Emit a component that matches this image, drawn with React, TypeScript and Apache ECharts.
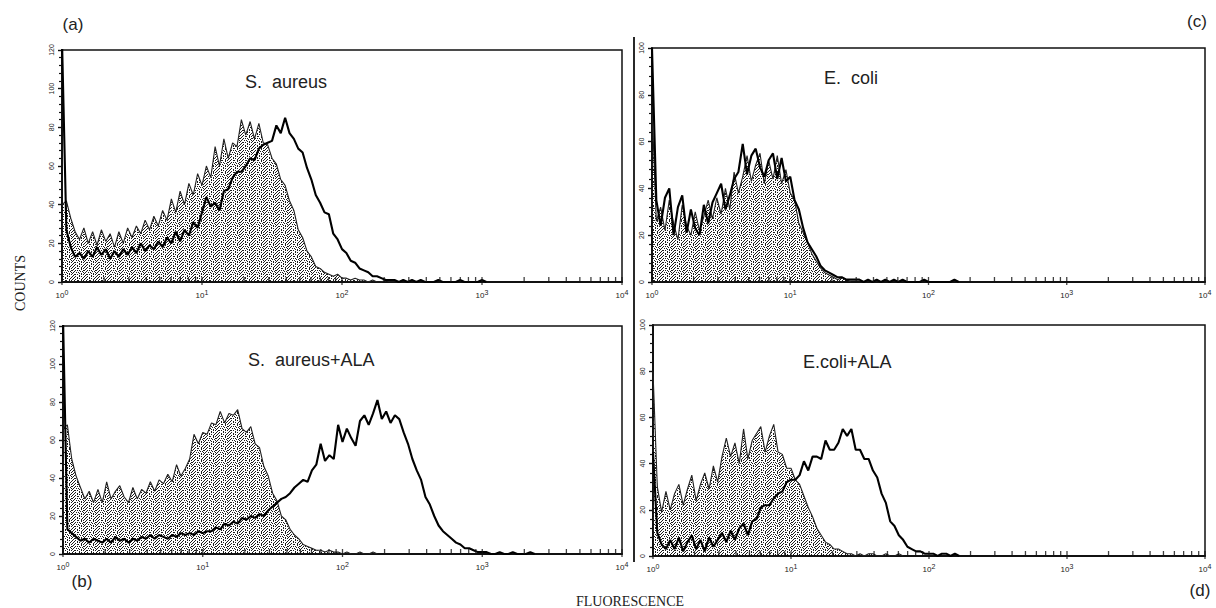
import React, { useEffect, useRef } from 'react';
import * as echarts from 'echarts';

// ---- axis definitions ----
const CHANNELS_PER_DECADE = 32;
const CHANNELS: string[] = Array.from({ length: 4 * CHANNELS_PER_DECADE + 1 }, (_, i) => String(i));
const DECADE_EXPONENTS = ['0', '1', '2', '3', '4'];
const Y_MAX_AUREUS = 120;
const Y_MAX_COLI = 100;

// ---- data (counts per log channel, 32 channels per decade, starting at 10^0) ----
// (a) S. aureus : control (stippled, thin) and treated (thick)
const A_CTRL = [40, 42, 33, 26, 22, 28, 20, 26, 19, 27, 21, 25, 18, 26, 20, 28, 23, 29, 25, 32, 27, 34, 29, 37, 32, 43, 36, 47, 40, 51, 45, 56, 50, 60, 54, 70, 60, 74, 64, 72, 70, 84, 76, 83, 74, 82, 72, 71, 64, 61, 53, 50, 42, 37, 27, 23, 16, 13, 8, 7, 5, 4, 3, 4, 2, 2, 1, 2, 1, 1, 0, 1, 0, 0, 1, 0, 0, 0, 1, 0];
const A_TRT = [125, 27, 18, 13, 15, 12, 16, 13, 18, 14, 17, 12, 16, 13, 17, 14, 18, 15, 20, 16, 19, 17, 21, 18, 23, 20, 26, 21, 27, 24, 31, 28, 36, 44, 39, 41, 37, 47, 48, 54, 57, 57, 60, 64, 63, 69, 71, 72, 73, 81, 77, 85, 77, 74, 69, 67, 59, 53, 45, 41, 36, 35, 25, 22, 17, 15, 11, 10, 7, 6, 5, 3, 3, 2, 1, 1, 1, 0, 1, 0, 1, 0, 1, 0, 0, 0, 1, 0, 0, 0, 0, 1, 0, 0, 0, 0, 1, 0];
// (b) S. aureus + ALA
const B_CTRL = [66, 68, 50, 41, 35, 29, 33, 27, 34, 27, 38, 29, 33, 36, 30, 27, 35, 29, 34, 32, 38, 33, 39, 37, 42, 38, 47, 41, 45, 50, 63, 58, 64, 63, 69, 68, 75, 69, 74, 73, 76, 66, 64, 67, 58, 56, 46, 41, 32, 28, 20, 18, 13, 10, 8, 5, 4, 3, 2, 2, 1, 2, 1, 1, 0, 1, 0, 0, 1, 0, 0, 1, 0];
const B_TRT = [125, 13, 11, 9, 7, 8, 6, 8, 7, 6, 8, 6, 9, 7, 8, 6, 8, 7, 9, 8, 10, 8, 10, 9, 8, 10, 9, 11, 10, 11, 10, 12, 11, 12, 12, 14, 13, 16, 15, 17, 16, 19, 18, 20, 19, 21, 20, 23, 25, 27, 29, 30, 32, 35, 37, 39, 38, 44, 47, 58, 49, 52, 50, 68, 59, 66, 61, 57, 70, 73, 68, 74, 81, 71, 75, 69, 73, 71, 64, 58, 50, 44, 39, 30, 26, 20, 15, 12, 10, 8, 6, 5, 3, 3, 2, 1, 1, 1, 0, 0, 1, 0, 0, 1, 0, 0, 0, 1, 0];
// (c) E. coli
const C_CTRL = [75, 26, 32, 22, 35, 25, 18, 33, 24, 20, 30, 22, 28, 35, 27, 36, 29, 40, 31, 47, 38, 45, 54, 43, 50, 55, 42, 52, 44, 54, 42, 48, 38, 35, 25, 21, 17, 12, 9, 6, 4, 3, 2, 1, 2, 1, 0];
const C_TRT = [100, 35, 24, 36, 40, 20, 32, 37, 21, 31, 23, 20, 33, 25, 34, 38, 42, 31, 37, 44, 47, 59, 46, 54, 57, 49, 45, 52, 55, 44, 53, 43, 45, 35, 31, 23, 17, 14, 11, 7, 5, 4, 3, 2, 2, 1, 1, 1, 1, 0, 1, 0, 1, 0, 1, 0, 1, 0, 1, 0, 0, 0, 0, 1, 0, 0, 0, 0, 0, 0, 1, 0];
// (d) E. coli + ALA
const D_CTRL = [80, 30, 19, 28, 20, 27, 31, 22, 29, 35, 24, 31, 36, 29, 39, 32, 43, 51, 43, 49, 40, 55, 42, 50, 53, 56, 45, 52, 57, 45, 44, 38, 38, 33, 31, 26, 21, 17, 12, 9, 6, 5, 3, 3, 2, 1, 1, 0, 1, 0, 1, 1, 0, 0, 1, 0, 0, 1, 0];
const D_TRT = [45, 10, 5, 3, 7, 3, 8, 2, 6, 9, 3, 7, 2, 8, 4, 7, 10, 6, 11, 7, 12, 14, 9, 15, 16, 21, 22, 22, 25, 27, 28, 32, 33, 33, 35, 41, 37, 43, 43, 42, 50, 46, 46, 49, 55, 52, 55, 46, 46, 42, 42, 37, 34, 27, 23, 15, 13, 9, 7, 4, 3, 2, 2, 1, 1, 1, 0, 1, 1, 0, 1, 0];

const PANEL_TITLES = ['S.  aureus', 'S.  aureus+ALA', 'E.  coli', 'E.coli+ALA'];
const PANEL_LETTERS = ['(a)', '(b)', '(c)', '(d)'];

// stipple texture tile (12x12) – purely a fill style
const STIPPLE_ROWS = [
  '#..#...#.#..',
  '..#..#.....#',
  '.#...#.#..#.',
  '#..#.....#..',
  '..#..##..#.#',
  '.#.......#..',
  '#..#.#.#...#',
  '..#.....#.#.',
  '.#..#.#....#',
  '#......#.#..',
  '..##.#...#.#',
  '.#.....#....',
];

function makeStipple(): any {
  const n = STIPPLE_ROWS.length;
  const c = document.createElement('canvas');
  c.width = n;
  c.height = n;
  const ctx = c.getContext('2d');
  if (ctx) {
    ctx.fillStyle = '#1c1c1c';
    STIPPLE_ROWS.forEach((row, y) => {
      for (let x = 0; x < row.length; x++) if (row[x] === '#') ctx.fillRect(x, y, 1, 1);
    });
  }
  return { image: c, repeat: 'repeat', imageWidth: n, imageHeight: n };
}

const GRIDS = [
  { left: 62, top: 50, width: 560, height: 232 },
  { left: 63, top: 326, width: 559, height: 228 },
  { left: 652, top: 48, width: 553, height: 234 },
  { left: 653, top: 325, width: 552, height: 231 },
];

// positions (in channel units) of log-decade tick marks: 1..9 x 10^d
function logTicks(major: boolean): number[] {
  const out: number[] = [];
  for (let d = 0; d < 4; d++) {
    for (let k = 1; k <= 9; k++) {
      if ((k === 1) === major) out.push(d * CHANNELS_PER_DECADE + CHANNELS_PER_DECADE * Math.log10(k));
    }
  }
  if (major) out.push(4 * CHANNELS_PER_DECADE);
  return out;
}

export default function App() {
  const ref = useRef<HTMLDivElement>(null);

  useEffect(() => {
    if (!ref.current) return;
    const chart = echarts.init(ref.current, undefined, { renderer: 'svg' });
    const stipple = makeStipple();
    const panels = [
      { ctrl: A_CTRL, trt: A_TRT, max: Y_MAX_AUREUS },
      { ctrl: B_CTRL, trt: B_TRT, max: Y_MAX_AUREUS },
      { ctrl: C_CTRL, trt: C_TRT, max: Y_MAX_COLI },
      { ctrl: D_CTRL, trt: D_TRT, max: Y_MAX_COLI },
    ];
    const axisColor = '#111';
    const labelFont = 'Arial, "Liberation Sans", sans-serif';
    const minorTicks = logTicks(false);
    const majorTicks = logTicks(true);
    const n = panels.length;

    const catAxes = panels.map((_, i) => ({
      type: 'category',
      gridIndex: i,
      data: CHANNELS,
      boundaryGap: false,
      position: 'bottom',
      axisLine: { show: true, lineStyle: { color: axisColor, width: 1.8 } },
      axisTick: { show: false },
      axisLabel: {
        show: true,
        interval: (idx: number) => idx % CHANNELS_PER_DECADE === 0,
        showMaxLabel: true,
        margin: 7,
        formatter: (v: string) => `{b|10}{s|${DECADE_EXPONENTS[Number(v) / CHANNELS_PER_DECADE]}}`,
        rich: {
          b: { fontSize: 8, color: '#222', fontFamily: labelFont },
          s: { fontSize: 7, color: '#222', fontFamily: labelFont, padding: [0, 0, 6, 0] },
        },
      },
      splitLine: { show: false },
    }));
    // hidden continuous axes on the same grids, used only to place the log tick marks
    const tickAxes = panels.map((_, i) => ({
      type: 'value',
      gridIndex: i,
      min: 0,
      max: 4 * CHANNELS_PER_DECADE,
      position: 'bottom',
      show: false,
    }));

    const tickSeries = panels.flatMap((_, i) => [
      {
        type: 'scatter',
        xAxisIndex: n + i,
        yAxisIndex: i,
        data: minorTicks.map((v) => [v, 0]),
        symbol: 'rect',
        symbolSize: [1.3, 5],
        symbolOffset: [0, -2.5],
        itemStyle: { color: axisColor },
        silent: true,
        clip: false,
        z: 6,
      },
      {
        type: 'scatter',
        xAxisIndex: n + i,
        yAxisIndex: i,
        data: majorTicks.map((v) => [v, 0]),
        symbol: 'rect',
        symbolSize: [1.3, 8],
        symbolOffset: [0, -1],
        itemStyle: { color: axisColor },
        silent: true,
        clip: false,
        z: 6,
      },
    ]);

    const option: any = {
      animation: false,
      backgroundColor: '#ffffff',
      grid: GRIDS.map((g) => ({ ...g, show: true, borderColor: '#111', borderWidth: 1.5, backgroundColor: 'transparent' })),
      xAxis: [...catAxes, ...tickAxes],
      yAxis: panels.map((p, i) => ({
        type: 'value',
        gridIndex: i,
        min: 0,
        max: p.max,
        interval: 20,
        axisLine: { show: true, lineStyle: { color: axisColor, width: 2 } },
        axisTick: { show: true, length: 4, lineStyle: { color: axisColor, width: 1.4 } },
        minorTick: { show: true, splitNumber: 5, length: 3, lineStyle: { color: axisColor, width: 1.2 } },
        axisLabel: {
          show: true,
          rotate: 90,
          fontSize: 7,
          margin: 7,
          color: '#222',
          fontFamily: labelFont,
        },
        splitLine: { show: false },
      })),
      series: [
        ...panels.flatMap((p, i) => [
          {
            type: 'line',
            xAxisIndex: i,
            yAxisIndex: i,
            data: p.ctrl,
            symbol: 'none',
            clip: true,
            lineStyle: { color: '#222', width: 1.1 },
            areaStyle: { color: stipple, opacity: 1 },
            z: 2,
          },
          {
            type: 'line',
            xAxisIndex: i,
            yAxisIndex: i,
            data: p.trt,
            symbol: 'none',
            clip: true,
            lineStyle: { color: '#000', width: 2.1 },
            z: 3,
          },
        ]),
        ...tickSeries,
      ],
      graphic: [
        { type: 'line', shape: { x1: 634, y1: 37, x2: 634, y2: 562 }, style: { stroke: '#111', lineWidth: 1.8 } },
        { type: 'text', x: 73, y: 24, style: { text: PANEL_LETTERS[0], font: `17px ${labelFont}`, fill: '#222', textAlign: 'center', textVerticalAlign: 'middle' } },
        { type: 'text', x: 82, y: 581, style: { text: PANEL_LETTERS[1], font: `17px ${labelFont}`, fill: '#222', textAlign: 'center', textVerticalAlign: 'middle' } },
        { type: 'text', x: 1197, y: 21, style: { text: PANEL_LETTERS[2], font: `17px ${labelFont}`, fill: '#222', textAlign: 'center', textVerticalAlign: 'middle' } },
        { type: 'text', x: 1200, y: 590, style: { text: PANEL_LETTERS[3], font: `17px ${labelFont}`, fill: '#222', textAlign: 'center', textVerticalAlign: 'middle' } },
        { type: 'text', x: 245, y: 82, style: { text: PANEL_TITLES[0], font: `18px ${labelFont}`, fill: '#222', textAlign: 'left', textVerticalAlign: 'middle' } },
        { type: 'text', x: 248, y: 360, style: { text: PANEL_TITLES[1], font: `18px ${labelFont}`, fill: '#222', textAlign: 'left', textVerticalAlign: 'middle' } },
        { type: 'text', x: 824, y: 78, style: { text: PANEL_TITLES[2], font: `18px ${labelFont}`, fill: '#222', textAlign: 'left', textVerticalAlign: 'middle' } },
        { type: 'text', x: 803, y: 362, style: { text: PANEL_TITLES[3], font: `18px ${labelFont}`, fill: '#222', textAlign: 'left', textVerticalAlign: 'middle' } },
        { type: 'text', x: 20, y: 283, rotation: Math.PI / 2, style: { text: 'COUNTS', font: '14px "Liberation Serif", "Times New Roman", serif', fill: '#222', textAlign: 'center', textVerticalAlign: 'middle' } },
        { type: 'text', x: 630, y: 601, style: { text: 'FLUORESCENCE', font: '14px "Liberation Serif", "Times New Roman", serif', fill: '#222', textAlign: 'center', textVerticalAlign: 'middle' } },
      ],
    };
    chart.setOption(option);
    return () => chart.dispose();
  }, []);

  return (
    <div
      ref={ref}
      style={{ position: 'fixed', left: 0, top: 0, width: 1216, height: 608, background: '#fff' }}
    />
  );
}
